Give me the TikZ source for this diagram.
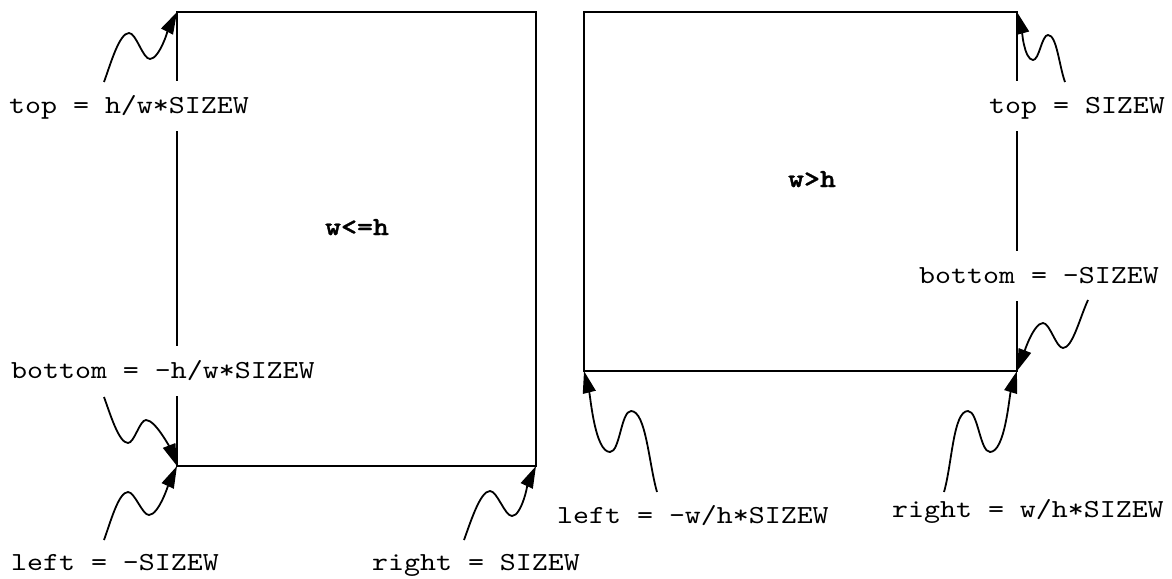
\documentclass[tikz,border=0pt]{standalone}
\usepackage{fontspec}
\setmonofont[Extension=.otf, UprightFont=lmmono10-regular, BoldFont=lmmonolt10-bold, BoldFeatures={FakeBold=1.2}, FakeStretch=1.17]{lmmono10-regular}
\usetikzlibrary{arrows.meta}
\begin{document}
\begin{tikzpicture}[x=1pt,y=1pt,
  frame/.style={draw, line width=1.8pt, outer sep=0pt, inner sep=0pt},
  lbl/.style={fill=white, anchor=base west, inner xsep=3pt, inner ysep=12pt,
    text height=20pt, text depth=6pt, font=\ttfamily\fontsize{26}{30}\selectfont},
  title/.style={anchor=base, font=\ttfamily\bfseries\fontsize{26}{30}\selectfont},
  wave/.style={line width=1.8pt, -{Triangle[length=22pt,width=13pt]}},
  pk/.style={out looseness=0.9, in looseness=0.45},
  mid/.style={looseness=0.55},
  tl/.style={out looseness=0.45, in looseness=0.8}]
\useasboundingbox (0,0) rectangle (1172,-578);
% frames
\node[frame, minimum width=359pt, minimum height=454pt] (R1) at (356.5,-239) {};
\node[frame, minimum width=433pt, minimum height=359pt] (R2) at (800.5,-191.5) {};
\node[title] (t1) at (357,-235) {w<=h};
\node[title] (t2) at (812,-187) {w>h};
% labels
\node[lbl] (l1) at (6,-113) {top = h/w*SIZEW};
\node[lbl] (l2) at (8,-378) {bottom = -h/w*SIZEW};
\node[lbl] (l3) at (8,-570) {left = -SIZEW};
\node[lbl] (l4) at (369,-570) {right = SIZEW};
\node[lbl] (l5) at (554,-523) {left = -w/h*SIZEW};
\node[lbl] (l6) at (889,-517) {right = w/h*SIZEW};
\node[lbl] (l7) at (986,-113) {top = SIZEW};
\node[lbl] (l8) at (916,-283) {bottom = -SIZEW};
% start points of wavy arrows
\coordinate (s1) at (104,-82);
\coordinate (s2) at (104,-397);
\coordinate (s3) at (104,-540);
\coordinate (s4) at (464,-540);
\coordinate (s5) at (657,-492);
\coordinate (s6) at (944,-492);
\coordinate (s7) at (1065,-82);
\coordinate (s8) at (1088,-300);
% wavy arrows
\draw[wave] (s1) to[out=70,in=180,pk] (129,-33) to[out=0,in=180,mid] (150,-59) to[out=0,in=243,tl] (R1.north west);
\draw[wave] (s2) to[out=-70,in=180,pk] (128,-443) to[out=0,in=180,mid] (146,-420) to[out=0,in=111,tl] (R1.south west);
\draw[wave] (s3) to[out=70,in=180,pk] (128,-492) to[out=0,in=180,mid] (149,-515) to[out=0,in=245,tl] (R1.south west);
\draw[wave] (s4) to[out=70,in=180,pk] (490,-491) to[out=0,in=180,mid] (512,-516) to[out=0,in=245,tl] (R1.south east);
\draw[wave] (s5) to[out=106,in=0,pk] (631,-411) to[out=180,in=0,mid] (610,-452) to[out=180,in=-76,tl] (R2.south west);
\draw[wave] (s6) to[out=74,in=180,pk] (968,-411) to[out=0,in=180,mid] (990,-452) to[out=0,in=253,tl] (R2.south east);
\draw[wave] (s7) to[out=110,in=0,pk] (1048,-35) to[out=180,in=0,mid] (1033,-60) to[out=180,in=-75,tl] (R2.north east);
\draw[wave] (s8) to[out=-115,in=0,pk] (1063,-348) to[out=180,in=0,mid] (1043,-323) to[out=180,in=69,tl] (R2.south east);
\end{tikzpicture}
\end{document}
